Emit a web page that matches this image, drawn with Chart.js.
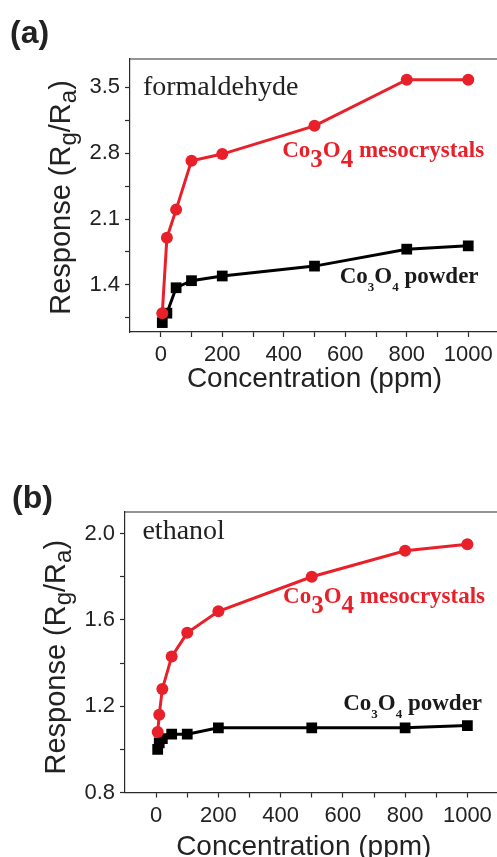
<!DOCTYPE html>
<html>
<head>
<meta charset="utf-8">
<script src="https://cdn.jsdelivr.net/npm/chart.js@4/dist/chart.umd.min.js"></script>
<style>
  html, body { margin:0; padding:0; background:#fff; overflow:hidden; width:497px; height:857px; }
  canvas { position:absolute; left:0; }
  #ca { top:0; }
  #cb { top:430px; }
</style>
</head>
<body>
<canvas id="ca" width="520" height="400"></canvas>
<canvas id="cb" width="520" height="427"></canvas>
<script>
// ---- data ----
const concA   = [5, 20, 50, 100, 200, 500, 800, 1000];
const mesoA   = [1.10, 1.90, 2.20, 2.72, 2.79, 3.09, 3.58, 3.58];
const powderA = [1.00, 1.10, 1.37, 1.445, 1.495, 1.60, 1.78, 1.815];

const concB   = [5, 10, 20, 50, 100, 200, 500, 800, 1000];
const mesoB   = [1.08, 1.16, 1.28, 1.43, 1.54, 1.64, 1.80, 1.92, 1.95];
const powderB = [1.00, 1.03, 1.05, 1.07, 1.07, 1.10, 1.10, 1.10, 1.11];

const xTicks      = [0, 100, 200, 300, 400, 500, 600, 700, 800, 900, 1000];
const xTickLabels = [0, 200, 400, 600, 800, 1000];
const yTicksA      = [1.05, 1.4, 1.75, 2.1, 2.45, 2.8, 3.15, 3.5];
const yTickLabelsA = [1.4, 2.1, 2.8, 3.5];
const yTicksB      = [0.8, 1.0, 1.2, 1.4, 1.6, 1.8, 2.0];
const yTickLabelsB = [0.8, 1.2, 1.6, 2.0];

const RED = '#E8202A';
const AX = '#2a2a2a';
const SANS = '"Liberation Sans", Arial, sans-serif';
const SERIF = '"Liberation Serif", "Times New Roman", serif';

const pts = (xs, ys) => xs.map((x, i) => ({x, y: ys[i]}));

function drawRich(ctx, segs, x, y) {
  let cx = x;
  for (const s of segs) {
    ctx.font = s.font;
    ctx.fillStyle = s.color;
    ctx.fillText(s.t, cx, y + (s.dy || 0));
    cx += ctx.measureText(s.t).width;
  }
  return cx - x;
}
function richWidth(ctx, segs) {
  let w = 0;
  for (const s of segs) { ctx.font = s.font; w += ctx.measureText(s.t).width; }
  return w;
}

const deco = {
  id: 'deco',
  afterDraw(chart, args, o) {
    const {ctx, chartArea: ca, scales: {x, y}} = chart;
    ctx.save();
    ctx.textBaseline = 'alphabetic';
    ctx.textAlign = 'left';
    // frame (top + right)
    ctx.strokeStyle = AX; ctx.lineWidth = 1.2;
    ctx.beginPath();
    ctx.moveTo(ca.left, ca.top); ctx.lineTo(ca.right, ca.top); ctx.lineTo(ca.right, ca.bottom);
    ctx.stroke();
    // panel letter
    ctx.font = 'bold 32px ' + SANS; ctx.fillStyle = '#222';
    ctx.fillText(o.panel, o.panelX, o.panelY);
    // annotations at data coordinates
    for (const a of o.notes) {
      drawRich(ctx, a.segs, x.getPixelForValue(a.xv), y.getPixelForValue(a.yv));
    }
    // x title
    ctx.font = '28px ' + SANS; ctx.fillStyle = '#222'; ctx.textAlign = 'center';
    ctx.fillText('Concentration (ppm)', (ca.left + ca.right) / 2 + o.xTitleDx, ca.bottom + o.xTitleDy);
    ctx.textAlign = 'left';
    // y title with subscripts
    const main = '29px ' + SANS, sub = '24px ' + SANS;
    const segs = [
      {t: 'Response (R', font: main, color: '#222'},
      {t: 'g', font: sub, color: '#222', dy: 6},
      {t: '/R', font: main, color: '#222'},
      {t: 'a', font: sub, color: '#222', dy: 6},
      {t: ')', font: main, color: '#222'}
    ];
    const w = richWidth(ctx, segs);
    ctx.translate(o.yTitleX, (ca.top + ca.bottom) / 2 + o.yTitleDy);
    ctx.rotate(-Math.PI / 2);
    drawRich(ctx, segs, -w / 2, 0);
    ctx.restore();
  }
};

function mesoLabel() {
  const m = 'bold 23px ' + SERIF, s = 'bold 25px ' + SERIF;
  return [
    {t: 'Co', font: m, color: RED}, {t: '3', font: s, color: RED, dy: 10},
    {t: 'O', font: m, color: RED}, {t: '4', font: s, color: RED, dy: 10},
    {t: ' mesocrystals', font: m, color: RED}
  ];
}
function powderLabel() {
  const m = 'bold 23px ' + SERIF, s = 'bold 13px ' + SERIF, c = '#1a1a1a';
  return [
    {t: 'Co', font: m, color: c}, {t: '3', font: s, color: c, dy: 8},
    {t: 'O', font: m, color: c}, {t: '4', font: s, color: c, dy: 8},
    {t: ' powder', font: m, color: c}
  ];
}
function gasLabel(t) {
  return [{t, font: '28px ' + SERIF, color: '#222'}];
}

const near = (arr, v) => arr.some(a => Math.abs(a - v) < 1e-6);

function makeChart(id, H, cfg) {
  const base = {
    type: 'scatter',
    data: {
      datasets: [
        {data: pts(cfg.conc, cfg.meso), showLine: true, borderColor: RED, backgroundColor: RED,
         borderWidth: 3, pointStyle: 'circle', pointRadius: 6, pointBorderWidth: 0},
        {data: pts(cfg.conc, cfg.powder), showLine: true, borderColor: '#000', backgroundColor: '#000',
         borderWidth: 3, pointStyle: 'rect', pointRadius: 7.6, pointBorderWidth: 0}
      ]
    },
    options: {
      responsive: false, animation: false, devicePixelRatio: 1,
      layout: {padding: {left: 0, top: cfg.top, right: cfg.right, bottom: 0}},
      plugins: {legend: {display: false}, tooltip: {enabled: false}, deco: cfg.deco},
      scales: {
        x: {
          type: 'linear', min: -100, max: 1100,
          afterBuildTicks: s => { s.ticks = xTicks.map(v => ({value: v})); },
          afterFit: s => { s.height = H - cfg.bottom; },
          ticks: {autoSkip: false, maxRotation: 0, padding: 5, color: '#222',
                  font: {family: SANS, size: 22},
                  callback: v => near(xTickLabels, v) ? String(v) : ''},
          grid: {drawOnChartArea: false, drawTicks: true, tickLength: 5, tickColor: AX, tickWidth: 1.2},
          border: {display: true, color: AX, width: 1.2}
        },
        y: {
          type: 'linear', min: cfg.ymin, max: cfg.ymax,
          afterBuildTicks: s => { s.ticks = cfg.yTicks.map(v => ({value: v})); },
          afterFit: s => { s.width = cfg.left; },
          ticks: {autoSkip: false, padding: 5, color: '#222',
                  font: {family: SANS, size: 22},
                  callback: v => near(cfg.yLabels, v) ? v.toFixed(1) : ''},
          grid: {drawOnChartArea: false, drawTicks: true, tickLength: 5, tickColor: AX, tickWidth: 1.2},
          border: {display: true, color: AX, width: 1.2}
        }
      }
    },
    plugins: [deco]
  };
  return new Chart(document.getElementById(id), base);
}

makeChart('ca', 400, {
  conc: concA, meso: mesoA, powder: powderA,
  ymin: 0.9, ymax: 3.8, yTicks: yTicksA, yLabels: yTickLabelsA,
  left: 130, top: 59, right: 21, bottom: 332,
  deco: {
    panel: '(a)', panelX: 10, panelY: 43,
    xTitleDx: 0, xTitleDy: 55, yTitleX: 70, yTitleDy: 2,
    notes: [
      {segs: gasLabel('formaldehyde'), xv: -58, yv: 3.415},
      {segs: mesoLabel(), xv: 395, yv: 2.76},
      {segs: powderLabel(), xv: 582, yv: 1.42}
    ]
  }
});

makeChart('cb', 427, {
  conc: concB, meso: mesoB, powder: powderB,
  ymin: 0.8, ymax: 2.1, yTicks: yTicksB, yLabels: yTickLabelsB,
  left: 125, top: 82, right: 21.5, bottom: 362.5,
  deco: {
    panel: '(b)', panelX: 12, panelY: 78,
    xTitleDx: -8, xTitleDy: 62, yTitleX: 65, yTitleDy: 5,
    notes: [
      {segs: gasLabel('ethanol'), xv: -44, yv: 1.974},
      {segs: mesoLabel(), xv: 408, yv: 1.677},
      {segs: powderLabel(), xv: 601, yv: 1.181}
    ]
  }
});
</script>
</body>
</html>
